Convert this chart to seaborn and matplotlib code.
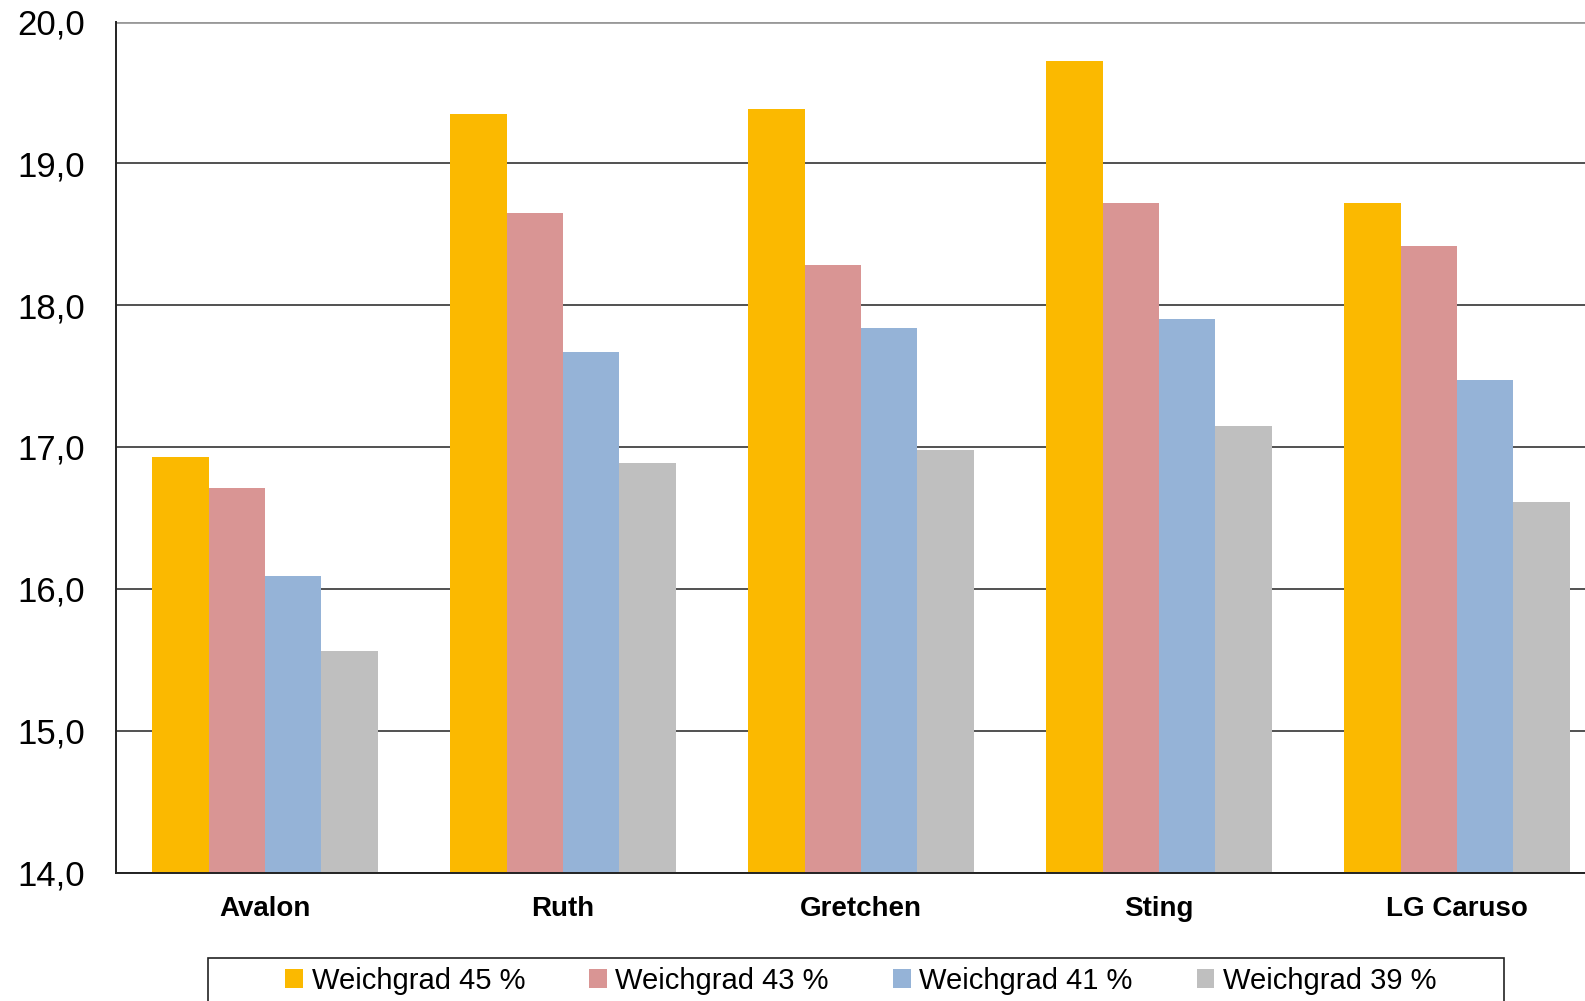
import numpy as np
import pandas as pd
import seaborn as sns
import matplotlib.pyplot as plt
from matplotlib.patches import Rectangle
from matplotlib.ticker import FixedLocator, FuncFormatter

# data
sorten = ["Avalon", "Ruth", "Gretchen", "Sting", "LG Caruso"]
serien = ["Weichgrad 45 %", "Weichgrad 43 %", "Weichgrad 41 %", "Weichgrad 39 %"]
wg45 = [16.93, 19.35, 19.38, 19.72, 18.72]
wg43 = [16.71, 18.65, 18.28, 18.72, 18.42]
wg41 = [16.09, 17.67, 17.84, 17.90, 17.47]
wg39 = [15.56, 16.89, 16.98, 17.15, 16.61]
farben = ["#FBB900", "#D99594", "#95B3D7", "#BFBFBF"]

df = pd.DataFrame({
    "sorte": sorten * 4,
    "serie": np.repeat(serien, len(sorten)),
    "wert": wg45 + wg43 + wg41 + wg39,
})

sns.set_style("white")
plt.rcParams["font.family"] = ["Liberation Sans", "DejaVu Sans"]
plt.rcParams["text.color"] = "black"
plt.rcParams["xtick.color"] = "black"
plt.rcParams["ytick.color"] = "black"

fig = plt.figure(figsize=(15.85, 10.01), dpi=100)
W, H = 1585, 1001
ax = fig.add_axes([116 / W, 128.5 / H, 1490 / W, 851 / H])

sns.barplot(data=df, x="sorte", y="wert", hue="serie", order=sorten, hue_order=serien,
            palette=farben, saturation=1, width=0.756, edgecolor="none", ax=ax, legend=True)

ax.set_ylim(14, 20)
ax.set_xlim(-0.5, len(sorten) - 0.5)
ax.set_yticks(np.arange(14, 20.01, 1))
ax.yaxis.set_major_formatter(FuncFormatter(lambda v, p: f"{v:.1f}".replace(".", ",")))
ax.xaxis.set_minor_locator(FixedLocator(np.arange(-0.5, len(sorten), 1)))
ax.tick_params(axis="x", which="major", length=0, pad=17, labelsize=20, labelcolor="black")
ax.tick_params(axis="x", which="minor", length=8, width=1.2, direction="out", color="#222222")
ax.tick_params(axis="y", length=9, width=1.2, direction="out", color="#222222",
               labelsize=25, pad=13, labelcolor="black")
for lab in ax.get_xticklabels():
    lab.set_fontweight("bold")

ax.set_axisbelow(True)
ax.yaxis.grid(True, color="#333333", lw=1.2)
ax.get_ygridlines()[-1].set_color("#999999")
ax.get_ygridlines()[-1].set_linewidth(2)
for s in ["top", "right"]:
    ax.spines[s].set_visible(False)
for s in ["left", "bottom"]:
    ax.spines[s].set_color("#222222")
    ax.spines[s].set_linewidth(1.4)
ax.set_xlabel("")
ax.set_ylabel("")

handles, labels = ax.get_legend_handles_labels()
ax.get_legend().remove()
fig.legend(handles, labels, loc="center", bbox_to_anchor=(861 / W, 1 - 981 / H),
           ncol=4, fontsize=21, frameon=False,
           handlelength=0.6, handleheight=0.6, handletextpad=0.3, columnspacing=2.2)
# legend frame, cut off at the bottom like in the original
fig.patches.append(Rectangle((208 / W, -0.02), (1504 - 208) / W, (0.02 + 1 - 958 / H),
                             transform=fig.transFigure, fill=False, edgecolor="#222222", lw=1.2))

fig.savefig("out.png", dpi=100)
